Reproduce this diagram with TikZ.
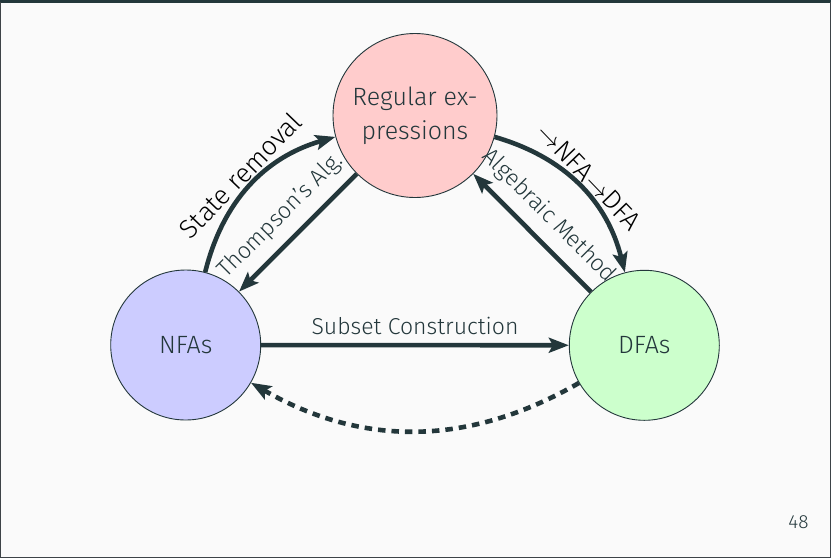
\documentclass[tikz,border=0pt]{standalone}
\usepackage{fontspec}
\setmainfont{Fira Sans Light}
\usetikzlibrary{arrows.meta}
\definecolor{mDark}{HTML}{23373B}
\definecolor{bgc}{HTML}{FAFAFA}
\definecolor{frameC}{HTML}{3D4347}
\definecolor{reC}{HTML}{FFCCCC}
\definecolor{nfaC}{HTML}{CCCCFF}
\definecolor{dfaC}{HTML}{CCFFCC}
\begin{document}
\begin{tikzpicture}[x=1pt,y=-1pt,
  state/.style={circle, draw=mDark, line width=0.9pt, text=mDark,
    font=\fontsize{25}{34}\selectfont, align=center, inner sep=0pt},
  edge/.style={draw=mDark, line width=4.6pt,
    -{Stealth[length=20pt,width=15pt,inset=4pt]}},
  biglab/.style={font=\fontsize{26.5}{30}\selectfont, text=black, sloped, above, inner sep=2pt},
  smalllab/.style={font=\fontsize{23}{27}\selectfont, text=mDark, sloped, above, inner sep=10.5pt},
  flatlab/.style={font=\fontsize{23}{27}\selectfont, text=mDark, above, inner sep=8pt},
  dashedge/.style={edge, dash pattern=on 7.5pt off 6pt},
]
\fill[bgc] (0,0) rectangle (831,558);
\useasboundingbox (0,0) rectangle (831,558);
\fill[mDark] (0,0) rectangle (831,2.7);
\draw[frameC, line width=1.3pt] (0.65,2) -- (0.65,557.35) -- (830.35,557.35) -- (830.35,2);

\node[state, fill=reC, minimum size=164pt] (re) at (415,115.5) {Regular ex-\\pressions};
\node[state, fill=nfaC, minimum size=150pt] (nfa) at (185.7,345) {NFAs};
\node[state, fill=dfaC, minimum size=150pt] (dfa) at (644.3,345.3) {DFAs};

\draw[edge] (nfa) to[bend left=30] node[biglab] {State removal} (re);
\draw[edge] (re) -- node[smalllab] {Thompson's Alg.} (nfa);
\draw[edge] (re) to[bend left=30] node[biglab] {$\to$NFA$\to$DFA} (dfa);
\draw[edge] (dfa) -- node[smalllab] {Algebraic Method} (re);
\draw[edge] (nfa) -- node[flatlab] {Subset Construction} (dfa);
\draw[dashedge] (dfa) to[bend left=30] (nfa);

\node[font=\fontsize{19}{22}\selectfont, text=mDark] (pg) at (798.5,522.5) {48};
\end{tikzpicture}
\end{document}
